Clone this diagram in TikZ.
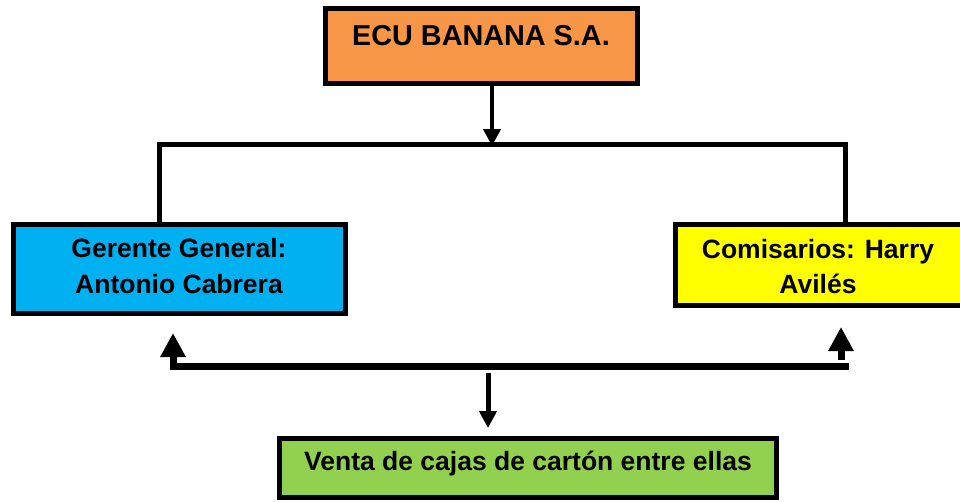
\documentclass[tikz,border=0pt]{standalone}
\usepackage{fontspec}
\setmainfont{Liberation Sans}
\usetikzlibrary{arrows.meta,calc}
\definecolor{orgfill}{HTML}{F79646}
\definecolor{bluefill}{HTML}{00B0F0}
\definecolor{yelfill}{HTML}{FFFF00}
\definecolor{grnfill}{HTML}{92D050}
\tikzset{
  boxshape/.style={draw=black, line width=5pt, inner sep=0pt, outer sep=0pt},
  lbl/.style={font=\fontsize{26.5}{36}\selectfont\bfseries, inner sep=0pt, anchor=base},
  thinline/.style={line width=5pt, line cap=rect},
  thinarrow/.style={line width=4.5pt, -{Triangle[length=17pt,width=17pt]}},
  upthick/.style={line width=7pt, -{Triangle[length=24pt,width=24pt]}},
}
\begin{document}
\begin{tikzpicture}[x=1pt,y=-1pt]
\useasboundingbox (0,0) rectangle (960,501);
% boxes
\draw[boxshape, fill=orgfill] (325.5,8.5) rectangle (637.5,83.5);
\draw[boxshape, fill=bluefill] (13.5,224.5) rectangle (345.5,313.5);
\draw[boxshape, fill=yelfill] (675.5,224.5) rectangle (962,305.5);
\draw[boxshape, fill=grnfill] (279.5,438.5) rectangle (776.5,497.5);
% named anchors for boxes
\coordinate (topbot) at (492,83.5);
\node[lbl, font=\fontsize{28.8}{36}\selectfont\bfseries] (ecu) at (481,45) {ECU BANANA S.A.};
\node[lbl] (gg1) at (179,257) {Gerente General:};
\node[lbl] (gg2) at (179,293) {Antonio Cabrera};
\node[lbl] (cm1) at (818,258) {Comisarios: Harry};
\node[lbl] (cm2) at (818,293) {Avilés};
\node[lbl] (vt) at (528,470) {Venta de cajas de cartón entre ellas};
% top connectors
\coordinate (busL) at (159.5,144);
\coordinate (busR) at (845,144);
\coordinate (busM) at (492,146);
\coordinate (ggtop) at (159.5,219);
\coordinate (cmtop) at (845,219);
\draw[thinarrow] (topbot) -- (busM);
\draw[thinline] (ggtop) -- (busL) -- (busR) -- (cmtop);
% bottom connectors
\coordinate (lowL) at (173,366);
\coordinate (lowR) at (849,366);
\coordinate (ggup) at (173,333);
\coordinate (cmbase) at (841,360);
\coordinate (cmup) at (841,327);
\coordinate (dnstart) at (488,373);
\coordinate (dnend) at (488,428);
\draw[line width=7pt] ($(lowL)+(-3.5,0)$) -- (lowR);
\draw[upthick] ($(lowL)+(0,3.5)$) -- (ggup);
\draw[upthick] (cmbase) -- (cmup);
\draw[thinarrow, line width=5pt] (dnstart) -- (dnend);
\end{tikzpicture}
\end{document}
